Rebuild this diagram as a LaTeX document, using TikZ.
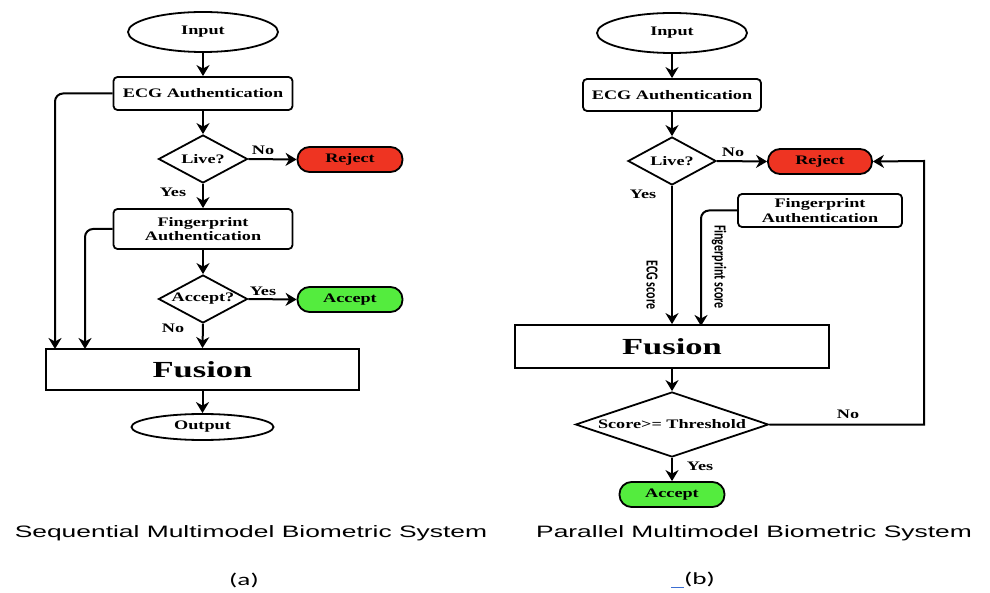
\documentclass[tikz,border=0pt]{standalone}
\usepackage{fontspec}
\setmainfont{Liberation Serif}
\newfontfamily\capfont{Liberation Sans}
\newfontfamily\calfont{Carlito}
\usetikzlibrary{shapes.geometric,arrows.meta}
\definecolor{rejred}{RGB}{238,52,34}
\definecolor{accgreen}{RGB}{84,236,62}
\definecolor{linkblue}{RGB}{60,110,210}
\newcommand{\wtxt}[1]{\scalebox{1.4}[1]{#1}}
\newcommand{\captxt}[1]{\scalebox{1.6}[1]{#1}}
\tikzset{
  base/.style={draw, line width=1.8pt, inner sep=0pt, font=\fontsize{13}{14.5}\selectfont\bfseries},
  term/.style={base, ellipse},
  proc/.style={base, rectangle, rounded corners=4pt},
  dec/.style={base, diamond, aspect=1.85},
  pill/.style={base, rectangle, rounded corners=12pt, minimum width=105pt, minimum height=25pt},
  lbl/.style={font=\fontsize{13}{14}\selectfont\bfseries, inner sep=0pt},
  flow/.style={-{Stealth[length=11pt,width=13pt,inset=3.5pt]}, line width=2pt},
}
\begin{document}
\begin{tikzpicture}[x=1pt,y=-1pt]
\useasboundingbox (0,0) rectangle (990,593);

% (a) sequential
\node[term, minimum width=150pt, minimum height=40pt] (inA) at (203,32) {\wtxt{Input}};
\node[proc, minimum width=179pt, minimum height=33pt] (ecgA) at (203,93.5) {\wtxt{ECG Authentication}};
\node[dec, minimum width=89pt, minimum height=48pt] (liveA) at (203,159) {\wtxt{Live?}};
\node[pill, fill=rejred] (rejA) at (350,159.5) {\wtxt{Reject}};
\node[proc, align=center, minimum width=179pt, minimum height=40pt] (fpA) at (203,229) {\wtxt{Fingerprint}\\\wtxt{Authentication}};
\node[dec, minimum width=89pt, minimum height=48pt] (accqA) at (203,299) {\wtxt{Accept?}};
\node[pill, fill=accgreen] (accA) at (350,299.5) {\wtxt{Accept}};
\node[base, rectangle, minimum width=313pt, minimum height=41pt, font=\fontsize{23}{24}\selectfont\bfseries] (fusA) at (202.5,369.5) {\scalebox{1.5}[1]{Fusion}};
\node[term, minimum width=142pt, minimum height=26pt] (outA) at (202.5,427) {\wtxt{Output}};
\coordinate (sideA1) at (55,349);
\coordinate (sideA2) at (85,349);

\draw[flow] (inA) -- (ecgA);
\draw[flow] (ecgA) -- (liveA);
\draw[flow] (liveA.east) -- (rejA.west);
\node[lbl] (noA1) at (263,150) {\wtxt{No}};
\draw[flow] (liveA.south) -- (fpA.north);
\node[lbl] (yesA1) at (173,192) {\wtxt{Yes}};
\draw[flow] (fpA) -- (accqA);
\draw[flow] (accqA.east) -- (accA.west);
\node[lbl] (yesA2) at (263,291) {\wtxt{Yes}};
\draw[flow] (accqA.south) -- (fusA.north);
\node[lbl] (noA2) at (173,328) {\wtxt{No}};
\draw[flow] (fusA) -- (outA);
\draw[flow, rounded corners=8pt] (ecgA.west) -| (sideA1);
\draw[flow, rounded corners=8pt] (fpA.west) -| (sideA2);

% (b) parallel
\node[term, minimum width=150pt, minimum height=40pt] (inB) at (672,33) {\wtxt{Input}};
\node[proc, minimum width=178pt, minimum height=32pt] (ecgB) at (672,95) {\wtxt{ECG Authentication}};
\node[dec, minimum width=88pt, minimum height=48pt] (liveB) at (672,161) {\wtxt{Live?}};
\node[pill, fill=rejred, minimum width=104pt] (rejB) at (820,161.5) {\wtxt{Reject}};
\node[proc, align=center, minimum width=164pt, minimum height=33pt] (fpB) at (820,210.5) {\wtxt{Fingerprint}\\\wtxt{Authentication}};
\node[base, rectangle, minimum width=314pt, minimum height=43pt, font=\fontsize{23}{24}\selectfont\bfseries] (fusB) at (672,346.5) {\scalebox{1.5}[1]{Fusion}};
\node[dec, aspect=3, minimum width=193pt, minimum height=65pt] (thrB) at (672,424.5) {\wtxt{Score>= Threshold}};
\node[pill, fill=accgreen] (accB) at (672,494.5) {\wtxt{Accept}};
\coordinate (fpIn) at (701,326);
\coordinate (loopB) at (924,161);

\draw[flow] (inB) -- (ecgB);
\draw[flow] (ecgB) -- (liveB);
\draw[flow] (liveB.east) -- (rejB.west);
\node[lbl] (noB1) at (733,152) {\wtxt{No}};
\draw[flow] (liveB.south) -- (fusB.north);
\node[lbl] (yesB1) at (643,194) {\wtxt{Yes}};
\node[font=\calfont\bfseries\fontsize{12}{13}\selectfont, rotate=-90, inner sep=0pt] (ecgsc) at (652,285) {\scalebox{1}[1.4]{ECG score}};
\draw[flow, rounded corners=8pt] (fpB.west) -| (fpIn);
\node[font=\calfont\bfseries\fontsize{12}{13}\selectfont, rotate=-90, inner sep=0pt] (fpsc) at (719,267) {\scalebox{1}[1.4]{Fingerprint score}};
\draw[flow] (fusB) -- (thrB);
\draw[flow] (thrB.south) -- (accB.north);
\node[lbl] (yesB2) at (700,466) {\wtxt{Yes}};
\draw[flow] (thrB.east) -| (loopB) -- (rejB.east);
\node[lbl] (noB2) at (848,414) {\wtxt{No}};

% captions
\node[font=\capfont\fontsize{16.5}{18}\selectfont] (capA) at (251,533) {\captxt{Sequential Multimodel Biometric System}};
\node[font=\capfont\fontsize{16.5}{18}\selectfont] (capB) at (754,533) {\captxt{Parallel Multimodel Biometric System}};
\node[font=\calfont\fontsize{17}{18}\selectfont] (subA) at (244,580) {\captxt{(a)}};
\node[font=\calfont\fontsize{17}{18}\selectfont] (subB) at (693,580) {{\color{linkblue}\rule[-3pt]{13pt}{1pt}}\captxt{(b)}};
\end{tikzpicture}
\end{document}
